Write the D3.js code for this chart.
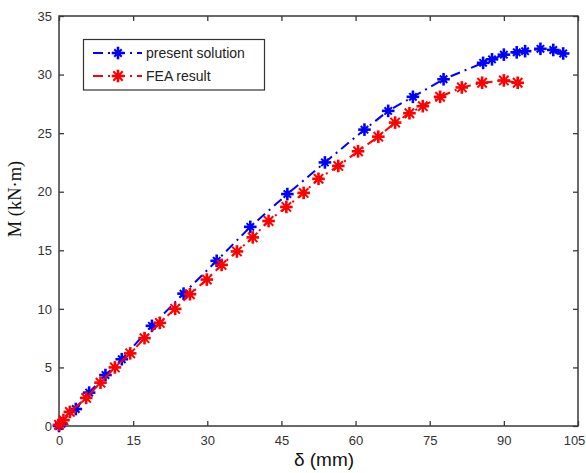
<!DOCTYPE html>
<html><head><meta charset="utf-8">
<script src="https://cdn.jsdelivr.net/npm/d3@7"></script>
<style>body{margin:0;background:#fff}svg{display:block}</style>
</head><body>
<svg id="c" width="586" height="473"></svg>
<script>
const xTicks = [0, 15, 30, 45, 60, 75, 90, 105];
const yTicks = [0, 5, 10, 15, 20, 25, 30, 35];
const seriesNames = ["present solution", "FEA result"];
const presentX = [0, 0.5, 3.4, 6.1, 9.4, 12.7, 18.8, 25.2, 31.9, 38.7, 46.2, 53.8, 61.8, 66.6, 71.6, 77.8, 85.8, 87.6, 90.0, 92.6, 94.3, 97.4, 100.0, 102.0];
const presentY = [0, 0.2, 1.45, 2.85, 4.35, 5.7, 8.55, 11.3, 14.1, 17.0, 19.8, 22.5, 25.3, 26.9, 28.1, 29.6, 31.0, 31.3, 31.7, 31.9, 32.0, 32.2, 32.1, 31.8];
const feaX = [0, 0.9, 2.2, 5.5, 8.4, 11.3, 14.4, 17.3, 20.4, 23.5, 26.5, 29.9, 32.9, 36.0, 39.2, 42.4, 46.0, 49.5, 52.5, 56.5, 60.5, 64.6, 68.0, 70.9, 73.6, 77.1, 81.5, 85.6, 90.0, 92.8];
const feaY = [0.1, 0.5, 1.2, 2.4, 3.7, 5.0, 6.2, 7.5, 8.8, 10.0, 11.25, 12.5, 13.75, 14.9, 16.1, 17.5, 18.7, 19.9, 21.1, 22.2, 23.45, 24.7, 25.9, 26.7, 27.3, 28.1, 28.9, 29.3, 29.5, 29.3];

const svg = d3.select("#c");
const L = 59, R = 578, T = 16, B = 426;
const x = d3.scaleLinear().domain([0, 105]).range([L, R]);
const y = d3.scaleLinear().domain([0, 35]).range([B, T]);
const axisColor = "#3a3a3a";

svg.append("rect").attr("x", L).attr("y", T).attr("width", R - L).attr("height", B - T)
  .attr("fill", "none").attr("stroke", axisColor).attr("stroke-width", 1.5);

const tickFont = "Liberation Sans, Arial, sans-serif";
const gx = svg.append("g").attr("transform", `translate(0,${B})`)
  .call(d3.axisBottom(x).tickValues(xTicks).tickSize(-5).tickPadding(10).tickFormat(d3.format("d")));
const gxt = svg.append("g").attr("transform", `translate(0,${T})`)
  .call(d3.axisTop(x).tickValues(xTicks).tickSize(-5).tickFormat(""));
const gy = svg.append("g").attr("transform", `translate(${L},0)`)
  .call(d3.axisLeft(y).tickValues(yTicks).tickSize(-5).tickPadding(7).tickFormat(d3.format("d")));
const gyr = svg.append("g").attr("transform", `translate(${R},0)`)
  .call(d3.axisRight(y).tickValues(yTicks).tickSize(-5).tickFormat(""));
[gx, gxt, gy, gyr].forEach(g => {
  g.select(".domain").remove();
  g.selectAll(".tick line").attr("stroke", axisColor).attr("stroke-width", 1.3);
  g.selectAll("text").attr("fill", "#333").style("font-family", tickFont).style("font-size", "13px");
});
gx.selectAll(".tick text").filter(d => d === 105).attr("dx", -4);

const series = [
  {name: seriesNames[0], xs: presentX, ys: presentY, color: "#0000ff", marker: "plus"},
  {name: seriesNames[1], xs: feaX, ys: feaY, color: "#ff0000", marker: "star"}
];
const line = d3.line().x(d => x(d[0])).y(d => y(d[1]));
function drawMarker(g, cx, cy, color, type) {
  const m = g.append("g").attr("transform", `translate(${cx},${cy})`)
    .attr("stroke", color).attr("stroke-linecap", "square");
  const s = 5;
  m.append("line").attr("x1", -s).attr("x2", s).attr("y1", 0).attr("y2", 0).attr("stroke-width", 2.6);
  m.append("line").attr("x1", 0).attr("x2", 0).attr("y1", -s).attr("y2", s).attr("stroke-width", 2.6);
  const d = type === "star" ? 4 : 3;
  m.append("line").attr("x1", -d).attr("x2", d).attr("y1", -d).attr("y2", d).attr("stroke-width", 2);
  m.append("line").attr("x1", -d).attr("x2", d).attr("y1", d).attr("y2", -d).attr("stroke-width", 2);
  m.append("circle").attr("r", 3).attr("fill", color).attr("stroke", "none");
}
series.forEach(s => {
  const pts = s.xs.map((v, i) => [v, s.ys[i]]);
  svg.append("path").datum(pts).attr("d", line).attr("fill", "none")
    .attr("stroke", s.color).attr("stroke-width", 2).attr("stroke-dasharray", "10,5,2,5");
  const g = svg.append("g");
  pts.forEach(p => drawMarker(g, x(p[0]), y(p[1]), s.color, s.marker));
});

const lg = svg.append("g");
lg.append("rect").attr("x", 83.5).attr("y", 39.5).attr("width", 181).attr("height", 50.5)
  .attr("fill", "#fff").attr("stroke", "#333").attr("stroke-width", 1.2);
series.forEach((s, i) => {
  const cy = 53 + i * 23;
  lg.append("line").attr("x1", 93).attr("x2", 142).attr("y1", cy).attr("y2", cy)
    .attr("stroke", s.color).attr("stroke-width", 2).attr("stroke-dasharray", "10,5,2,5");
  drawMarker(lg, 118, cy, s.color, s.marker);
  lg.append("text").attr("x", 146).attr("y", cy + 5).text(s.name)
    .style("font-family", tickFont).style("font-size", "14px").attr("fill", "#222");
});

svg.append("text").attr("x", 324).attr("y", 466).attr("text-anchor", "middle")
  .style("font-family", "Liberation Sans, Arial, sans-serif").style("font-size", "19px").attr("fill", "#111")
  .text("δ (mm)");
svg.append("text").attr("transform", "translate(21,199) rotate(-90)").attr("text-anchor", "middle")
  .style("font-family", "Liberation Serif, Times New Roman, serif").style("font-size", "18.5px").attr("fill", "#111")
  .text("M (kN·m)");
</script>
</body></html>
